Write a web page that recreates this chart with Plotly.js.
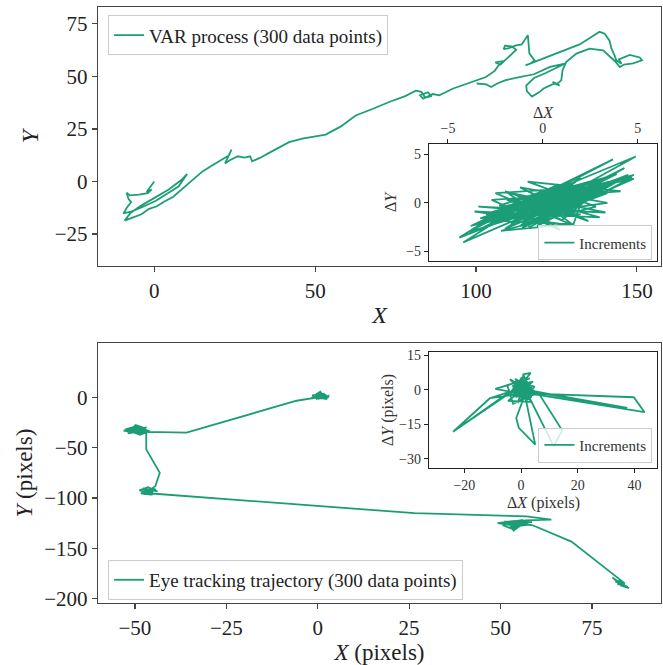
<!DOCTYPE html>
<html>
<head>
<meta charset="utf-8">
<script src="https://cdn.plot.ly/plotly-3.0.1.min.js"></script>
<style>html,body{margin:0;padding:0;background:#fff;}#chart{width:663px;height:665px;}</style>
</head>
<body>
<div id="chart"></div>
<script>
// ---- VAR process trajectory ----
const varX = [0,-1.2,-2.4,-0.8,-2.0,-4.8,-7.6,-8.6,-8.0,-7.2,-8.6,-9.6,-7.0,-3.5,0.5,4.2,7.5,10.2,8.8,4.5,0.2,-4.2,-7.4,-9.2,-7.2,-4.0,-1.6,0.8,3.0,5.8,8.6,11.8,15.0,18.2,20.8,23.2,24.0,23.0,22.0,23.6,26.0,28.0,29.8,30.4,32.8,36.4,41.9,46.0,50.2,53.3,58.0,62.6,68.0,73.0,78.0,81.3,83.0,84.2,86.2,85.0,82.6,83.6,86.6,88.6,92.7,98.0,103.1,105.8,107.3,106.0,108.4,107.4,109.0,111.0,112.5,111.2,109.0,108.6,110.2,112.2,114.2,116.1,116.3,116.6,118.2,117.0,115.4,120.2,126.0,132.2,138.4,140.0,141.5,142.1,143.0,143.6,145.2,144.4,147.8,150.9,151.6,148.8,146.0,144.7,143.2,139.5,135.3,131.2,128.0,126.9,126.5,125.0,123.8,126.0,124.6,121.0,119.7,117.4,115.8,115.6,118.0,121.5,124.0,127.6,123.0,118.0,113.5,109.2,106.6,104.7,103.2,100.2];
const varY = [0,-2.5,-5.0,-3.8,-5.6,-6.2,-6.6,-5.4,-8.4,-9.8,-12.6,-15.2,-14.2,-12.0,-9.2,-5.6,-2.4,3.6,1.2,-3.8,-7.8,-11.6,-15.0,-18.6,-17.4,-15.6,-13.0,-11.8,-9.6,-7.4,-3.6,0.4,4.8,7.8,10.0,12.4,15.2,12.0,8.6,10.2,12.0,11.4,12.0,9.6,11.2,14.2,18.7,20.4,21.4,22.3,26.2,31.4,34.6,37.8,40.6,43.2,42.6,40.0,40.6,42.4,41.0,39.4,41.6,41.0,44.1,47.0,49.7,52.6,55.8,56.6,57.2,55.4,57.6,60.4,62.6,64.2,64.6,63.0,63.4,64.6,65.2,69.6,65.0,60.8,57.6,56.2,55.2,58.0,61.6,65.2,71.2,70.3,67.0,63.2,60.2,57.6,56.0,58.0,60.2,59.0,57.6,56.2,55.6,54.4,57.2,62.4,63.2,60.8,56.8,52.9,48.1,46.2,47.4,45.6,46.8,44.2,42.5,40.4,43.0,45.6,49.2,51.5,53.2,56.0,54.5,51.0,49.6,48.2,46.6,44.9,46.2,46.6];

// ---- VAR increments ----
const varDX = [0.6,-1.4,2.2,-0.9,1.6,-2.4,0.8,3.2,-1.7,0.3,-3.3,1.9,-0.4,2.8,-2.2,0.9,4.0,-1.5,0.1,-2.9,1.2,3.7,-1.0,-4.4,2.3,0.5,-1.9,3.4,-0.2,1.5,-2.6,4.9,0.2,-1.2,2.5,-3.6,0.7,2.0,-0.7,3.9,-2.5,0.4,1.3,-2.0,4.8,-0.9,0.6,-3.9,2.7,1.0,-1.4,3.1,-2.1,1.0,-0.3,4.7,-1.6,2.1,-3.1,0.5,1.8,-0.8,3.6,-3.0,0.6,2.4,-1.1,4.8,-0.5,1.4,-2.3,0.8,3.7,-1.8,-4.2,1.6,0.2,2.9,-1.0,1.2,-2.6,3.5,-0.2,4.3,-1.3,0.8,-3.8,2.1,1.6,-0.6,3.2,-1.9,0.4,2.6,-2.8,1.1,4.5,-0.7,-1.5,3.0,
  -2.5,1.7,-3.6,3.0,-2.0,2.4,-1.2,3.4,-3.2,1.5,-2.2,2.8,-0.8,4.1,-2.7,0.9,-1.9,3.3,-3.4,2.0];
const varDY = [0.9,-0.2,1.0,-1.4,0.2,-0.8,1.3,1.2,-2.1,-0.6,-1.6,1.8,-0.9,2.4,-0.5,-1.2,2.3,-1.8,0.8,-2.0,-0.4,2.0,0.6,-3.6,1.5,-1.1,0.3,1.0,-1.6,2.0,-1.3,4.8,-0.3,-2.4,0.7,-2.2,1.0,2.6,-1.5,3.0,-1.0,-0.2,1.4,-2.7,2.9,-0.4,1.6,-3.0,0.9,-1.8,0.2,2.5,-1.6,0.4,-2.4,2.6,-0.7,1.7,-2.5,1.1,-0.6,-2.0,2.0,-1.2,1.3,1.1,-2.6,2.5,0.3,-0.9,-0.3,1.7,4.5,-1.1,-4.1,0.8,-1.4,1.6,0.6,-0.2,-0.9,2.2,-1.2,3.6,-1.9,1.9,-2.4,0.5,-2.3,0.9,1.4,-0.6,-1.0,1.8,-1.3,0.4,2.9,-2.5,-0.1,1.7,
  1.0,-2.4,-0.9,-1.5,1.2,-1.9,1.6,0.0,-1.8,-2.2,-2.9,-0.4,2.2,1.2,0.3,-2.8,1.1,-1.0,-0.4,-1.2];

// ---- Eye tracking trajectory ----
const eyeX = [0.8,2.1,-0.6,1.4,3.2,0.2,-1.5,1.9,0.4,2.6,-0.9,1.1,0.0,2.9,-1.8,1.6,0.7,-0.4,2.3,1.0,-1.2,3.0,0.3,1.5,-0.5,0.9,
  -5.8,-35.9,-46.4,
  -48.2,-51.4,-46.8,-50.2,-47.5,-52.6,-49.3,-46.2,-50.8,-48.0,-53.1,-47.0,-49.8,-51.9,-46.6,-49.0,-50.5,-47.8,-52.0,-48.6,-46.0,-50.0,-51.2,-47.2,-49.4,-46.9,
  -46.9,-43.2,-44.4,
  -45.8,-48.2,-44.6,-47.6,-45.0,-48.8,-46.4,-43.8,-47.2,-45.6,-48.4,-44.2,-46.8,-47.8,-45.2,-46.0,-44.8,-47.0,-45.4,
  26.5,57.1,63.9,
  56.8,53.2,58.6,51.0,55.4,49.2,54.0,57.6,52.4,55.8,50.6,53.8,56.2,52.0,54.6,58.2,53.0,55.0,51.6,57.0,54.2,53.4,56.0,58.8,
  69.4,84.0,
  82.6,80.6,83.4,81.4,84.4,82.0,83.8,81.2,84.8,82.8,85.2];
const eyeY = [1.2,-0.5,2.8,0.3,1.6,-1.4,1.9,3.6,0.6,-1.8,0.1,4.8,2.2,0.9,-0.6,1.4,5.6,3.1,2.4,-0.9,1.0,-0.2,1.7,2.9,-1.8,0.4,
  -3.4,-35.0,-34.4,
  -31.5,-33.6,-29.8,-35.2,-33.1,-31.8,-28.4,-34.6,-30.2,-36.4,-33.0,-31.2,-27.6,-35.8,-32.6,-34.0,-29.4,-30.6,-32.4,-37.2,-33.4,-31.0,-34.2,-35.0,-32.8,-34.0,
  -51.7,-75.0,-88.2,
  -92.0,-94.4,-90.6,-96.2,-94.8,-92.6,-89.4,-93.6,-91.0,-96.8,-95.4,-91.8,-93.2,-90.2,-97.2,-94.2,-92.4,-95.6,-95.6,
  -115.2,-118.4,-121.6,
  -122.4,-125.8,-124.0,-123.6,-128.2,-125.0,-122.8,-126.6,-129.4,-124.6,-127.0,-131.6,-121.8,-124.4,-127.4,-122.6,-130.4,-125.4,-126.2,-123.2,-128.8,-133.0,-126.0,-127.2,
  -143.4,-185.0,
  -184.4,-179.2,-186.6,-183.0,-187.8,-185.8,-184.2,-181.4,-188.6,-187.0,-189.6];

// ---- Eye tracking increments ----
const eyeDX = [1.2,-2.1,0.6,2.4,-1.3,3.1,-0.7,1.8,-2.6,0.4,2.9,-1.6,0.9,-0.3,1.5,-3.4,2.2,-0.8,3.6,-1.9,0.2,1.1,-2.3,2.7,
  -10.8,-23.8,-3.8,
  1.4,-1.1,2.5,-2.8,0.7,3.3,-0.5,1.9,-2.0,0.1,2.6,-1.4,1.0,-3.0,2.0,-0.6,3.8,-1.7,0.5,1.6,
  4.2,-4.6,3.8,-3.9,4.6,-2.8,-4.9,3.1,
  -9.1,-3.6,
  1.3,-2.4,2.8,-0.2,0.8,3.4,-1.0,2.1,-2.9,1.7,-0.4,2.4,
  0.1,-1.7,-0.8,5.0,1.2,
  -1.8,2.2,-0.9,1.4,-2.5,3.0,0.3,-1.2,2.6,-0.1,
  2.0,39.8,43.6,6.0,
  -2.2,1.1,3.5,-1.5,0.6,2.3,-3.1,1.8,-0.7,2.9,-1.9,0.9,
  -1.2,4.8,-3.3,2.5,-4.0,1.0,3.6,-2.1,
  6.4,14.5,11.5,2.4,
  -1.6,2.0,-2.7,1.3,3.2,-0.4,1.5,-2.2,
  9.2,37.5,3.0,
  -1.0,2.4,-0.6,1.9,-2.4,0.8,-11.0,-24.0,-4.6,1.2,-0.8];
const eyeDY = [-0.8,1.5,3.2,-1.9,-0.4,1.1,-2.6,2.2,0.3,-1.2,0.6,2.7,-3.4,1.8,-0.2,-1.0,3.9,-0.9,-1.5,0.8,5.4,-2.1,-2.8,1.9,
  -3.5,-18.0,-1.2,
  0.9,-1.6,2.4,1.2,-0.6,-2.3,3.6,-1.1,-2.0,1.3,0.2,4.1,-2.9,0.5,1.6,-1.4,0.9,2.0,-4.1,2.9,
  3.6,-4.8,-5.2,4.6,-2.0,-6.0,2.1,5.0,
  0.4,-0.8,
  -1.7,2.2,-0.5,-2.3,6.8,7.4,0.7,-2.6,-1.3,3.3,-0.5,1.4,
  -6.4,-12.2,-16.5,-23.8,-1.4,
  1.6,-0.4,2.5,-3.0,-0.6,2.1,-1.0,3.4,-1.8,0.8,
  -1.5,-3.2,-9.7,-2.2,
  -1.4,1.9,-0.8,-2.5,2.6,0.4,1.8,-2.2,-0.2,3.0,-3.3,1.1,
  -5.6,1.4,3.8,-4.4,-1.6,6.2,-3.4,4.8,
  -1.8,-17.6,-24.5,-2.0,
  0.6,2.3,-1.9,0.2,-2.8,4.4,-0.9,1.1,
  -1.6,-7.8,-0.6,
  -1.2,1.7,-3.0,0.5,2.8,-1.6,-3.6,-18.2,-1.4,0.7,-0.3];

const green = '#1b9e77';
const FONT = "'Liberation Serif', 'DejaVu Serif', serif";
const lineW = 1.8;

const traces = [
  {x: varX, y: varY, xaxis: 'x', yaxis: 'y', type: 'scatter', mode: 'lines',
   name: 'VAR process (300 data points)', line: {color: green, width: lineW}, legend: 'legend'},
  {x: eyeX, y: eyeY, xaxis: 'x2', yaxis: 'y2', type: 'scatter', mode: 'lines',
   name: 'Eye tracking trajectory (300 data points)', line: {color: green, width: lineW}, legend: 'legend3'},
  {x: varDX, y: varDY, xaxis: 'x3', yaxis: 'y3', type: 'scatter', mode: 'lines',
   name: 'Increments', line: {color: green, width: lineW}, legend: 'legend2'},
  {x: eyeDX, y: eyeDY, xaxis: 'x4', yaxis: 'y4', type: 'scatter', mode: 'lines',
   name: 'Increments', line: {color: green, width: lineW}, legend: 'legend4'}
];

function mainAxis(extra) {
  return Object.assign({
    showgrid: false, zeroline: false, showline: true, mirror: true,
    linecolor: '#444', linewidth: 1.3, ticks: 'outside', ticklen: 5, tickwidth: 1.2,
    tickcolor: '#444', tickfont: {family: FONT, size: 21, color: '#222'},
    automargin: false
  }, extra);
}
function insetAxis(extra) {
  return Object.assign({
    showgrid: false, zeroline: false, showline: true, mirror: true,
    linecolor: '#222', linewidth: 1.2, ticks: 'outside', ticklen: 4, tickwidth: 1,
    tickcolor: '#222', tickfont: {family: FONT, size: 14, color: '#333'},
    automargin: false
  }, extra);
}
const legBase = {bgcolor: 'rgba(255,255,255,0.8)', bordercolor: '#cccccc', borderwidth: 1,
  xanchor: 'left', yanchor: 'top', tracegroupgap: 0};
const insetTitleFont = {family: FONT, size: 16, color: '#333'};

const layout = {
  width: 663, height: 665,
  margin: {l: 0, r: 0, t: 0, b: 0},
  paper_bgcolor: '#fff', plot_bgcolor: '#fff',
  showlegend: true,
  xaxis: mainAxis({domain: [0.1478, 0.997], anchor: 'y', range: [-17.5, 157.5], tickvals: [0, 50, 100, 150],
    title: {text: '<i>X</i>', font: {family: FONT, size: 24, color: '#222'}, standoff: 4}}),
  yaxis: mainAxis({domain: [0.6, 0.9895], anchor: 'x', range: [-40.2, 83], tickvals: [-25, 0, 25, 50, 75],
    title: {text: '<i>Y</i>', font: {family: FONT, size: 24, color: '#222'}, standoff: 9}}),
  xaxis2: mainAxis({domain: [0.1478, 0.997], anchor: 'y2', range: [-60.1, 93.9], tickvals: [-50, -25, 0, 25, 50, 75],
    title: {text: '<i>X</i> (pixels)', font: {family: FONT, size: 23, color: '#222'}, standoff: 9}}),
  yaxis2: mainAxis({domain: [0.0932, 0.4842], anchor: 'x2', range: [-204.5, 54], tickvals: [-200, -150, -100, -50, 0],
    title: {text: '<i>Y</i> (pixels)', font: {family: FONT, size: 23, color: '#222'}, standoff: 5}}),
  xaxis3: insetAxis({domain: [0.6471, 0.991], anchor: 'y3', side: 'top', range: [-6.0, 6.02], tickvals: [-5, 0, 5]}),
  yaxis3: insetAxis({domain: [0.6075, 0.7835], anchor: 'x3', range: [-6.03, 6.1], tickvals: [-5, 0, 5],
    title: {text: 'Δ<i>Y</i>', font: insetTitleFont, standoff: 5}}),
  xaxis4: insetAxis({domain: [0.6471, 0.991], anchor: 'y4', range: [-32.5, 48], tickvals: [-20, 0, 20, 40]}),
  yaxis4: insetAxis({domain: [0.2962, 0.4707], anchor: 'x4', range: [-34, 16.5], tickvals: [-30, -15, 0, 15],
    title: {text: 'Δ<i>Y</i> (pixels)', font: insetTitleFont, standoff: 1}}),
  annotations: [
    {text: 'Δ<i>X</i>', xref: 'x3 domain', yref: 'paper', x: 0.5, y: 1 - 113 / 665,
     xanchor: 'center', yanchor: 'middle', showarrow: false, font: insetTitleFont},
    {text: 'Δ<i>X</i> (pixels)', xref: 'x4 domain', yref: 'paper', x: 0.5, y: 1 - 503 / 665,
     xanchor: 'center', yanchor: 'middle', showarrow: false, font: insetTitleFont}
  ],
  legend: Object.assign({}, legBase, {x: 0.163, y: 0.977, font: {family: FONT, size: 19, color: '#222'}}),
  legend2: Object.assign({}, legBase, {x: 0.812, y: 0.661, font: {family: FONT, size: 15, color: '#333'}}),
  legend3: Object.assign({}, legBase, {x: 0.163, y: 0.158, font: {family: FONT, size: 19, color: '#222'}}),
  legend4: Object.assign({}, legBase, {x: 0.812, y: 0.357, font: {family: FONT, size: 15, color: '#333'}})
};

Plotly.newPlot('chart', traces, layout, {displayModeBar: false, staticPlot: true});
</script>
</body>
</html>
